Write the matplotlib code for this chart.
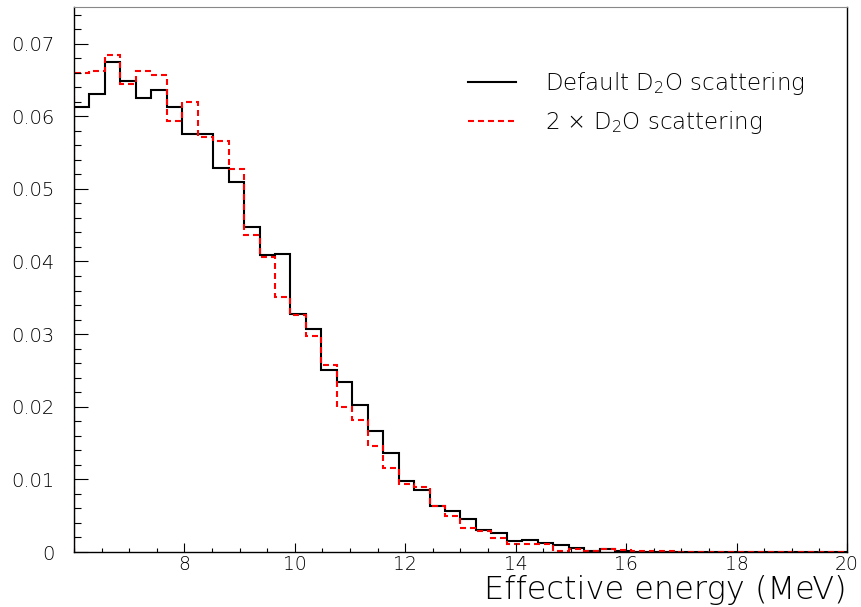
import numpy as np
import matplotlib
matplotlib.use('Agg')
import matplotlib.pyplot as plt
from matplotlib.ticker import MultipleLocator, FuncFormatter

# 50 bins, 6 - 20 MeV
BIN_LO, BIN_HI, NBINS = 6.0, 20.0, 50

default_d2o = [0.0613, 0.0631, 0.0674, 0.0649, 0.0625, 0.0636, 0.0613, 0.0575, 0.0575, 0.0529,
               0.0510, 0.0448, 0.0409, 0.0411, 0.0328, 0.0307, 0.0250, 0.0234, 0.0202, 0.0167,
               0.0137, 0.0098, 0.0085, 0.0064, 0.0057, 0.0045, 0.0030, 0.0026, 0.0015, 0.0016,
               0.0012, 0.0009, 0.0006, 0.0001, 0.0004, 0.0001, 0.0, 0.0, 0.0, 0.0,
               0.0, 0.0, 0.0, 0.0, 0.0, 0.0, 0.0, 0.0, 0.0, 0.0]

double_d2o = [0.0659, 0.0662, 0.0684, 0.0644, 0.0662, 0.0657, 0.0593, 0.0620, 0.0572, 0.0566,
              0.0527, 0.0437, 0.0406, 0.0351, 0.0327, 0.0298, 0.0258, 0.0200, 0.0182, 0.0146,
              0.0115, 0.0094, 0.0089, 0.0063, 0.0050, 0.0033, 0.0029, 0.0019, 0.0011, 0.0011,
              0.0011, 0.0002, 0.00045, 0.0001, 0.0004, 0.0003, 0.0002, 0.0002, 0.0001, 0.0,
              0.0, 0.0, 0.0, 0.0, 0.0, 0.0, 0.0, 0.0, 0.0, 0.0]

LBL_DEFAULT = 'Default D$_2$O scattering'
LBL_DOUBLE = '2 $\\times$ D$_2$O scattering'
XLABEL = 'Effective energy (MeV)'

plt.rcParams['font.family'] = ['DejaVu Sans']
plt.rcParams['font.weight'] = 'light'
plt.rcParams['mathtext.fontset'] = 'dejavusans'
plt.rcParams['lines.scale_dashes'] = False

edges = np.linspace(BIN_LO, BIN_HI, NBINS + 1)

fig = plt.figure(figsize=(8.62, 6.07), dpi=100)
ax = fig.add_axes([74/862, 1 - 552/607, 773/862, (552 - 7.3)/607])

ax.stairs(default_d2o, edges, baseline=0, color='black', lw=1.5, label=LBL_DEFAULT)
ax.stairs(double_d2o, edges, baseline=0, color='#ff0000', lw=1.5,
          linestyle=(0, (4.3, 2.9)), label=LBL_DOUBLE)

ax.set_xlim(BIN_LO, BIN_HI)
ax.set_ylim(0, 0.075)

ax.set_xticks(np.arange(8, 21, 2))
ax.xaxis.set_minor_locator(MultipleLocator(0.5))
ax.yaxis.set_major_locator(MultipleLocator(0.01))
ax.yaxis.set_minor_locator(MultipleLocator(0.002))
ax.yaxis.set_major_formatter(FuncFormatter(lambda v, p: '%g' % round(v, 3)))

ax.tick_params(axis='x', which='major', direction='in', length=6.5, width=0.8, pad=2,
               labelsize=13.5, labelcolor='black')
ax.tick_params(axis='x', which='minor', direction='in', length=3.2, width=0.8)
ax.tick_params(axis='y', which='major', direction='in', length=10, width=0.8, pad=14,
               labelsize=14, labelcolor='black')
ax.tick_params(axis='y', which='minor', direction='in', length=5, width=0.8)
for s in ['left', 'bottom', 'right']:
    ax.spines[s].set_linewidth(1.0)
ax.spines['top'].set_color('#888888')

ax.legend(loc='upper left', bbox_to_anchor=(0.51, 0.885), frameon=False,
          fontsize=16.5, handlelength=2.1, handletextpad=1.25, labelspacing=0.52,
          borderpad=0, borderaxespad=0)

fig.text(847/862, 1 - 599/607, XLABEL, ha='right', va='baseline', fontsize=23)

fig.savefig('out.png', dpi=100)
